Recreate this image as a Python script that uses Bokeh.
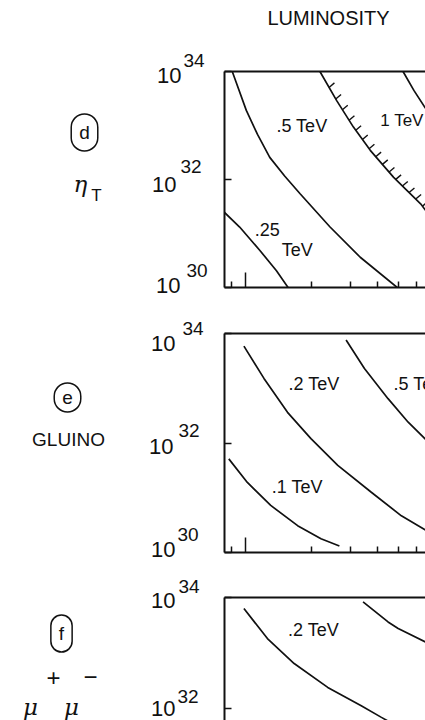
import numpy as np
from bokeh.plotting import figure
from bokeh.models import Range1d, FixedTicker, LogAxis, Label, CustomJSTickFormatter
from bokeh.layouts import column, row
from bokeh.embed import file_html
from bokeh.resources import INLINE

# x: collider energy sqrt(s) in TeV ; y: log10 of luminosity (cm^-2 s^-1)
X_START, X_END = 8.0, 66.1
x_major_ticks = [10.0]
x_minor_ticks = [8.6, 20.0, 30.0, 40.0, 50.0, 60.0]
y_tick_exps = [30, 32, 34]

# ---- panel d : eta_T ----
d_025_s = [8.0, 9.38, 11.58, 13.81, 15.6]
d_025_L = [31.39, 31.12, 30.69, 30.31, 30.0]
d_05_s = [8.68, 10.06, 11.33, 12.87, 15.08, 17.66, 24.25, 33.3, 49.1]
d_05_L = [34.0, 33.28, 32.83, 32.41, 32.06, 31.74, 31.12, 30.56, 30.0]
d_1_s = [21.8, 26.0, 31.0, 37.0, 47.3, 62.8, 66.1]
d_1_L = [34.0, 33.46, 32.97, 32.54, 32.04, 31.55, 31.43]
d_2_s = [52.2, 58.5, 66.1]
d_2_L = [34.0, 33.65, 33.32]

# ---- panel e : gluino ----
e_01_s = [8.37, 10.17, 13.0, 17.25, 22.05, 26.75]
e_01_L = [31.71, 31.28, 30.86, 30.49, 30.25, 30.12]
e_02_s = [9.81, 12.11, 15.51, 19.84, 26.3, 37.4, 51.3, 66.8]
e_02_L = [33.77, 33.18, 32.56, 32.08, 31.59, 31.10, 30.67, 30.40]
e_05_s = [28.7, 34.8, 44.6, 55.1, 66.8]
e_05_L = [33.88, 33.36, 32.81, 32.38, 32.05]

# ---- panel f : mu+ mu- ----
f_02_s = [9.81, 12.56, 16.63, 23.67, 33.65, 41.6, 51.3]
f_02_L = [33.80, 33.26, 32.81, 32.38, 32.05, 31.84, 31.64]
f_05_s = [34.3, 44.6, 49.6, 66.8]
f_05_L = [33.92, 33.56, 33.44, 33.19]

FONT = "Liberation Sans"
INK = "#111111"
PAGE_W = 425
GUTTER_W = 214


def blank():
    return CustomJSTickFormatter(code="return ''")


def base_fig(**kw):
    return figure(output_backend="svg", toolbar_location=None,
                  outline_line_color=None, background_fill_color="white",
                  border_fill_color="white", **kw)


def make_panel(row_top, row_h, frame_top, frame_h, lo_exp, bottom_axis=True):
    y_lo = 10.0 ** lo_exp
    p = base_fig(width=PAGE_W - GUTTER_W, height=row_h, x_axis_type="log", y_axis_type="log",
                 x_range=Range1d(X_START, X_END), y_range=Range1d(y_lo, 1e34),
                 x_axis_location="below" if bottom_axis else None,
                 min_border_left=10, min_border_right=0,
                 min_border_top=frame_top - row_top,
                 min_border_bottom=row_top + row_h - frame_top - frame_h)
    p.grid.visible = False
    if bottom_axis:
        ax = p.xaxis[0]
        ax.ticker = FixedTicker(ticks=x_major_ticks, minor_ticks=x_minor_ticks)
        ax.formatter = blank()
        ax.major_label_text_font_size = "1px"
        ax.major_tick_in = 15
        ax.major_tick_out = 0
        ax.minor_tick_in = 6
        ax.minor_tick_out = 0
        ax.major_label_standoff = 0
        ax.axis_line_width = 2
        ax.axis_line_color = INK
        ax.major_tick_line_width = 1.5
        ax.minor_tick_line_width = 1.5
        ax.major_tick_line_color = INK
        ax.minor_tick_line_color = INK
    ay = p.yaxis[0]
    ay.ticker = FixedTicker(ticks=[10.0 ** e for e in y_tick_exps], minor_ticks=[])
    ay.formatter = blank()
    ay.major_label_text_font_size = "1px"
    ay.major_tick_in = 7
    ay.major_tick_out = 0
    ay.minor_tick_in = 0
    ay.minor_tick_out = 0
    ay.major_label_standoff = 0
    ay.axis_line_width = 2
    ay.axis_line_color = INK
    ay.major_tick_line_width = 1.5
    ay.major_tick_line_color = INK
    topax = LogAxis(ticker=FixedTicker(ticks=[1e34], minor_ticks=[]), formatter=blank(),
                    major_label_text_font_size="1px",
                    major_label_standoff=0, axis_line_width=2, axis_line_color=INK,
                    major_tick_in=0, major_tick_out=0, minor_tick_in=0, minor_tick_out=0)
    p.add_layout(topax, "above")

    # left gutter carrying the tick labels and panel names, on the same log scale
    k = frame_h / (34 - lo_exp)
    g_top = 34 + (frame_top - row_top) / k
    g_bot = 34 - (row_top + row_h - frame_top) / k
    g = base_fig(width=GUTTER_W, height=row_h, x_range=Range1d(0, GUTTER_W),
                 y_axis_type="log", y_range=Range1d(10.0 ** g_bot, 10.0 ** g_top),
                 x_axis_location=None, y_axis_location=None, min_border=0)
    g.grid.visible = False
    return p, g, k


def curve(p, s, L, width=1.7):
    p.line(s, [10.0 ** v for v in L], line_color=INK, line_width=width)


class Gutter:
    def __init__(self, g, frame_top, k):
        self.g, self.ft, self.k = g, frame_top, k

    def text(self, txt, xp, yp, size, align="center", font=FONT, style="normal",
             circled=False):
        yd = 10.0 ** (34 - (yp - self.ft) / self.k)
        kw = {}
        if circled:
            kw = dict(border_line_color=INK, border_line_width=1.5, padding=8,
                      border_radius=14)
        self.g.add_layout(Label(x=xp, y=yd, text=txt, text_font=font,
                                text_font_size=f"{size}px", text_font_style=style,
                                text_align=align, text_baseline="middle",
                                text_color=INK, **kw))


def data_text(p, txt, s, L, size=18, align="center"):
    p.add_layout(Label(x=s, y=10.0 ** L, text=txt, text_font=FONT,
                       text_font_size=f"{size}px", text_align=align,
                       text_baseline="middle", text_color=INK))


# ---------------- header ----------------
HEAD_H = 40
head = base_fig(width=PAGE_W, height=HEAD_H, x_range=Range1d(0, PAGE_W),
                y_range=Range1d(HEAD_H, 0), x_axis_location=None, y_axis_location=None,
                min_border=0)
head.grid.visible = False
head.add_layout(Label(x=328, y=17, text="LUMINOSITY", text_font=FONT,
                      text_font_size="20px", text_align="center",
                      text_baseline="middle", text_color=INK))

# ---------------- panel d ----------------
pd_, gd, kd = make_panel(40, 262, 71, 216, 30)
curve(pd_, d_025_s, d_025_L)
curve(pd_, d_05_s, d_05_L)
curve(pd_, d_1_s, d_1_L)
curve(pd_, d_2_s, d_2_L)
# hatching on the 1 TeV discovery limit
hs = np.geomspace(24.0, 64.0, 15)
hL = np.interp(np.log10(hs), np.log10(d_1_s), d_1_L)
pd_.ray(x=hs, y=10.0 ** hL, length=7, length_units="screen", angle=0.7,
        line_color=INK, line_width=1.4)
data_text(pd_, ".5 TeV", 18.05, 33.0)
data_text(pd_, "1 TeV", 41.1, 33.09, align="left", size=17)
data_text(pd_, ".25", 10.98, 31.065, align="left")
data_text(pd_, "TeV", 14.6, 30.69, align="left")

G = Gutter(gd, 71, kd)
G.text("10", 181, 75, 22, align="right")
G.text("34", 183, 60, 19, align="left")
G.text("10", 176, 184, 22, align="right")
G.text("32", 180, 166, 19, align="left")
G.text("10", 180, 285, 22, align="right")
G.text("30", 186, 270, 19, align="left")
G.text("d", 84, 132, 19, circled=True)
G.text("η", 80, 183, 23, font="DejaVu Serif", style="italic")
G.text("T", 96, 195, 17)

# ---------------- panel e ----------------
pe_, ge, ke = make_panel(302, 272, 333, 219, 30)
curve(pe_, e_01_s, e_01_L)
curve(pe_, e_02_s, e_02_L)
curve(pe_, e_05_s, e_05_L)
data_text(pe_, ".2 TeV", 20.5, 33.07)
data_text(pe_, ".5 TeV", 47.2, 33.07, align="left")
data_text(pe_, ".1 TeV", 17.2, 31.19)

G = Gutter(ge, 333, ke)
G.text("10", 175, 343, 22, align="right")
G.text("34", 182, 328, 19, align="left")
G.text("10", 173, 446, 22, align="right")
G.text("32", 178, 430, 19, align="left")
G.text("10", 175, 549, 22, align="right")
G.text("30", 177, 534, 19, align="left")
G.text("e", 67, 397, 19, circled=True)
G.text("GLUINO", 68, 439, 19)

# ---------------- panel f ----------------
pf_, gf, kf = make_panel(574, 146, 597, 123, 34 - 123 / 55.5, bottom_axis=False)
curve(pf_, f_02_s, f_02_L)
curve(pf_, f_05_s, f_05_L)
data_text(pf_, ".2 TeV", 20.4, 33.42)

G = Gutter(gf, 597, kf)
G.text("10", 175, 600, 22, align="right")
G.text("34", 178, 586, 19, align="left")
G.text("10", 175, 708, 22, align="right")
G.text("32", 177, 696, 19, align="left")
G.text("f", 61, 633, 19, circled=True)
G.text("+", 53, 677, 24)
G.text("\u2212", 90, 676, 24)
G.text("μ", 30, 706, 23, font="DejaVu Serif", style="italic")
G.text("μ", 71, 706, 23, font="DejaVu Serif", style="italic")

layout = column(head, row(column(gd, ge, gf), column(pd_, pe_, pf_)))
open("out.html", "w").write(file_html(layout, INLINE))
